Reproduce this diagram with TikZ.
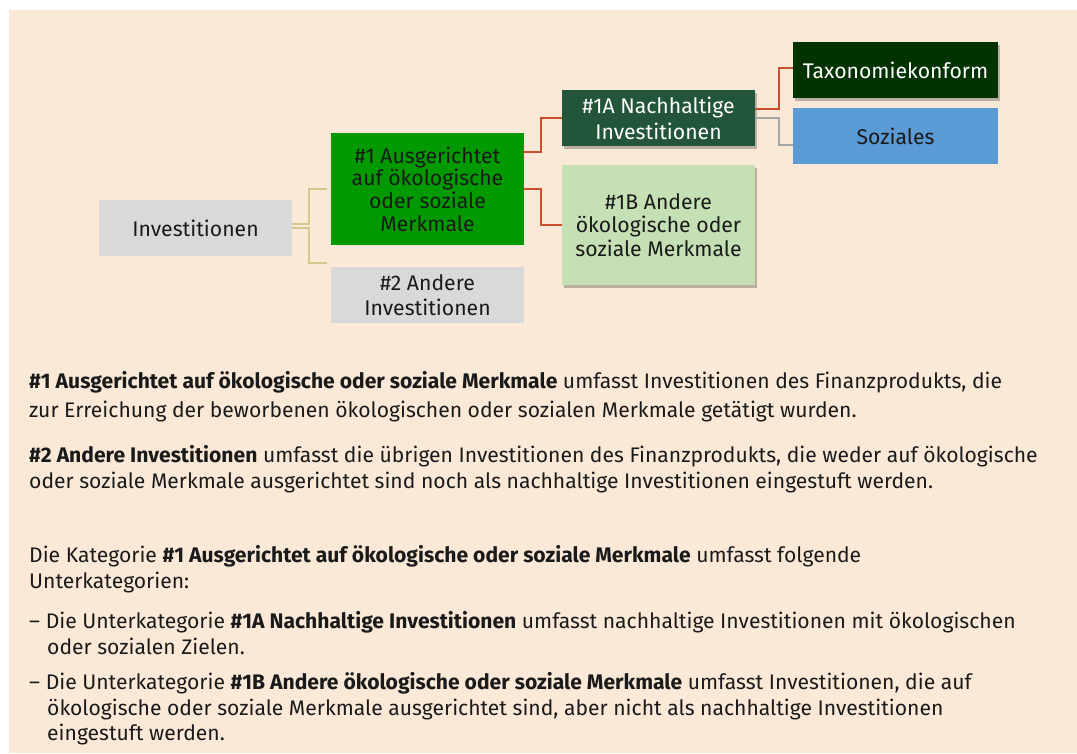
\documentclass[tikz,border=0pt]{standalone}
\usepackage{fontspec}
\setmainfont{Fira Sans}
\usetikzlibrary{shadows}
\definecolor{bgc}{HTML}{FBE9D8}
\definecolor{boxgray}{HTML}{D9D9D9}
\definecolor{greenA}{HTML}{009900}
\definecolor{darkA}{HTML}{23553A}
\definecolor{lightB}{HTML}{C5E0B4}
\definecolor{taxc}{HTML}{003300}
\definecolor{sozc}{HTML}{5B9BD5}
\definecolor{tanline}{HTML}{D4C88C}
\definecolor{redline}{HTML}{C8502E}
\definecolor{grayline}{HTML}{A6A6A6}
\definecolor{txt}{HTML}{1A1A1A}
\tikzset{
  box/.style={inner sep=0pt, align=center, text=txt, font=\fontsize{21.2}{22.7}\selectfont},
  shad/.style={drop shadow={shadow xshift=2pt, shadow yshift=-3pt, opacity=0.25, fill=black}},
  tanc/.style={draw=tanline, line width=1.5pt},
  redc/.style={draw=redline, line width=2pt},
  grayc/.style={draw=grayline, line width=1.5pt},
  body/.style={anchor=base west, inner sep=0pt, text=txt, font=\fontsize{21.1}{26}\selectfont},
}
\begin{document}
\begin{tikzpicture}[x=1pt, y=-1pt]
\useasboundingbox (0,0) rectangle (1077,753);
\fill[bgc] (9,10) rectangle (1077,753);

\node[box, fill=boxgray, minimum width=193pt, minimum height=56pt] (inv) at (195.5,228) {Investitionen};
\node[box, fill=greenA, minimum width=193pt, minimum height=112pt] (c1) at (427.5,189) {\#1 Ausgerichtet\\auf ökologische\\oder soziale\\Merkmale};
\node[box, fill=boxgray, minimum width=193pt, minimum height=56pt, font=\fontsize{21.2}{25}\selectfont] (c2) at (427.5,295) {\#2 Andere\\Investitionen};
\node[box, shad, fill=darkA, text=white, minimum width=193pt, minimum height=56pt, font=\fontsize{21.2}{26}\selectfont] (c1a) at (658.5,118) {\#1A Nachhaltige\\Investitionen};
\node[box, shad, fill=lightB, minimum width=193pt, minimum height=120pt, font=\fontsize{21.2}{23.5}\selectfont] (c1b) at (658.5,225) {\#1B Andere\\ökologische oder\\soziale Merkmale};
\node[box, shad, fill=taxc, text=white, minimum width=205pt, minimum height=56pt] (tax) at (895.5,70) {Taxonomiekonform};
\node[box, fill=sozc, minimum width=205pt, minimum height=56pt] (soz) at (895.5,136) {Soziales};

\draw[tanc] ([yshift=4pt]inv.east) -- ++(17,0) |- ([xshift=-4pt]c1.west);
\draw[tanc] (inv.east) -- ++(17,0) |- ([xshift=-4pt,yshift=4pt]c2.north west);
\draw[redc] ([yshift=37pt]c1.east) -- ++(17,0) |- (c1a.west);
\draw[redc] (c1.east) -- ++(17,0) |- (c1b.west);
\draw[redc] ([yshift=9pt]c1a.east) -- ++(24,0) |- ([yshift=2pt]tax.west);
\draw[grayc] (c1a.east) -- ++(24,0) |- ([yshift=-9pt]soz.west);

\node[body] (l1) at (29,388) {\textbf{\#1 Ausgerichtet auf ökologische oder soziale Merkmale} umfasst Investitionen des Finanzprodukts, die};
\node[body] (l2) at (29,417) {zur Erreichung der beworbenen ökologischen oder sozialen Merkmale getätigt wurden.};
\node[body] (l3) at (29,462) {\textbf{\#2 Andere Investitionen} umfasst die übrigen Investitionen des Finanzprodukts, die weder auf ökologische};
\node[body] (l4) at (29,488) {oder soziale Merkmale ausgerichtet sind noch als nachhaltige Investitionen eingestuft werden.};
\node[body] (l5) at (29,562) {Die Kategorie \textbf{\#1 Ausgerichtet auf ökologische oder soziale Merkmale} umfasst folgende};
\node[body] (l6) at (29,588) {Unterkategorien:};
\node[body] (l7) at (29,628) {– Die Unterkategorie \textbf{\#1A Nachhaltige Investitionen} umfasst nachhaltige Investitionen mit ökologischen};
\node[body] (l8) at (47,654) {oder sozialen Zielen.};
\node[body] (l9) at (29,689) {– Die Unterkategorie \textbf{\#1B Andere ökologische oder soziale Merkmale} umfasst Investitionen, die auf};
\node[body] (l10) at (47,715) {ökologische oder soziale Merkmale ausgerichtet sind, aber nicht als nachhaltige Investitionen};
\node[body] (l11) at (47,740) {eingestuft werden.};
\end{tikzpicture}
\end{document}
